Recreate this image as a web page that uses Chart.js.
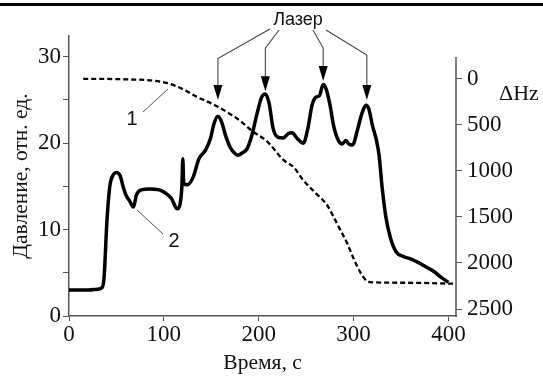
<!DOCTYPE html>
<html lang="ru">
<head>
<meta charset="UTF-8">
<title>Давление и сдвиг частоты</title>
<style>
  body { margin: 0; background: #fff; }
  .wrap { width: 543px; height: 376px; }
</style>
</head>
<body>
<div class="wrap"><canvas id="chart" width="543" height="376"></canvas></div>
<script src="https://cdn.jsdelivr.net/npm/chart.js@4/dist/chart.umd.min.js"></script>
<script>
// curve 2: pressure, rel. units (left axis)
const pressureTime = [0, 10, 20, 30, 35, 37, 40, 43, 47, 50, 54, 57, 60, 64, 68, 71, 76, 85, 95, 102,
  108, 114, 117, 119, 120, 121, 125, 131, 137, 144, 149, 153, 157, 161, 165, 170, 175, 178, 183, 188,
  193, 198, 203, 207, 211, 215, 220, 226, 231, 235, 241, 247, 252, 256, 260, 264, 268, 271, 275, 279,
  284, 288, 292, 295, 299, 304, 309, 313, 316, 320, 324, 327, 330, 334, 339, 345, 352, 360, 368, 376,
  384, 392, 400];
const pressure = [3.0, 3.0, 3.0, 3.1, 3.3, 4.5, 11.0, 15.0, 16.4, 16.6, 16.2, 15.0, 14.0, 13.3, 12.6, 14.0, 14.6, 14.7, 14.6, 14.2,
  13.6, 12.4, 12.9, 15.0, 18.2, 15.3, 15.2, 16.1, 18.2, 19.2, 20.5, 22.3, 23.1, 22.4, 20.9, 19.5, 18.8, 18.6, 18.9, 19.4,
  21.0, 23.3, 25.3, 25.7, 24.6, 21.8, 20.7, 20.6, 21.1, 21.2, 20.5, 20.0, 21.8, 24.3, 25.3, 25.5, 26.8, 26.3, 24.5, 22.0,
  20.3, 19.9, 20.3, 19.9, 19.8, 21.5, 23.5, 24.4, 24.0, 22.0, 20.4, 18.5, 15.0, 11.5, 9.0, 7.4, 6.9, 6.6, 6.2, 5.7,
  5.2, 4.5, 3.9];

// curve 1: frequency shift, Hz (right axis, inverted)
const shiftTime = [15, 40, 64, 85, 103, 120, 135, 150, 165, 180, 193, 209, 226, 237, 247, 260, 272, 279,
  286, 293, 300, 307, 314, 320, 360, 405];
const shift = [0, 0, 5, 15, 43, 110, 196, 265, 350, 450, 565, 680, 880, 960, 1100, 1240, 1370, 1500,
  1640, 1780, 1950, 2100, 2195, 2210, 2215, 2225];

const timeTicks = [0, 100, 200, 300, 400];
const pressureTicks = [0, 5, 10, 15, 20, 25, 30];
const shiftTicks = [0, 500, 1000, 1500, 2000, 2500];

// laser pulses: time of each peak, arrow tip and knee (pressure units)
const laserTime = [157, 207, 268, 314];
const laserTip = [25.0, 26.0, 27.2, 25.0];
const laserKnee = [29.8, 31.0, 31.0, 30.2];

const SERIF = '"Liberation Serif", "Times New Roman", serif';
const SANS = '"Liberation Sans", Arial, sans-serif';
const AXIS = '#555';

const toPoints = (xs, ys) => xs.map((v, i) => ({x: v, y: ys[i]}));
const setTicks = list => scale => { scale.ticks = list.map(v => ({value: v})); };

function arrowHead(ctx, x, y) {
  ctx.beginPath();
  ctx.moveTo(x, y);
  ctx.lineTo(x - 4.5, y - 15);
  ctx.lineTo(x + 4.5, y - 15);
  ctx.closePath();
  ctx.fill();
}

const extras = {
  id: 'extras',
  afterDraw(chart) {
    const {ctx, chartArea, scales: {x, y, y2}} = chart;
    ctx.save();

    // rule across the top of the figure
    ctx.fillStyle = '#000';
    ctx.fillRect(0, 3, chart.width, 3);

    // right axis line is shorter than the left one
    ctx.strokeStyle = AXIS;
    ctx.lineWidth = 1.5;
    ctx.beginPath();
    ctx.moveTo(chartArea.right, y2.getPixelForValue(-240));
    ctx.lineTo(chartArea.right, chartArea.bottom + 1);
    ctx.stroke();

    ctx.fillStyle = '#111';
    ctx.font = '22px ' + SERIF;
    ctx.textAlign = 'left';
    ctx.textBaseline = 'middle';
    ctx.fillText('ΔHz', 499, 94);

    // "Лазер" with arrows to the pressure peaks
    ctx.font = '18px ' + SANS;
    ctx.textAlign = 'center';
    ctx.fillText('Лазер', 298, 20);
    const starts = [[270, 29], [279, 30], [313, 30], [326, 30]];
    ctx.strokeStyle = '#444';
    ctx.lineWidth = 1.1;
    ctx.fillStyle = '#000';
    laserTime.forEach((t, i) => {
      const px = x.getPixelForValue(t);
      const knee = y.getPixelForValue(laserKnee[i]);
      const tip = y.getPixelForValue(laserTip[i]);
      ctx.beginPath();
      ctx.moveTo(starts[i][0], starts[i][1]);
      ctx.lineTo(px, knee);
      ctx.lineTo(px, tip - 12);
      ctx.stroke();
      arrowHead(ctx, px, tip);
    });

    // curve numbers with leader lines
    ctx.fillStyle = '#111';
    ctx.font = '20px ' + SANS;
    ctx.fillText('1', 132, 119);
    ctx.fillText('2', 174, 241);
    ctx.strokeStyle = '#555';
    ctx.lineWidth = 1;
    ctx.beginPath();
    ctx.moveTo(143, 112); ctx.lineTo(168, 89);
    ctx.moveTo(137, 210); ctx.lineTo(163, 234);
    ctx.stroke();

    ctx.restore();
  }
};

const tickFont = {family: SERIF, size: 23};
const titleFont = {family: SERIF, size: 21.5};

new Chart(document.getElementById('chart'), {
  type: 'line',
  data: {
    datasets: [{
      label: '2',
      data: toPoints(pressureTime, pressure),
      yAxisID: 'y',
      borderColor: '#000',
      borderWidth: 3.5,
      pointRadius: 0,
      cubicInterpolationMode: 'monotone',
      fill: false
    }, {
      label: '1',
      data: toPoints(shiftTime, shift),
      yAxisID: 'y2',
      borderColor: '#000',
      borderWidth: 2.3,
      borderDash: [5, 3],
      pointRadius: 0,
      cubicInterpolationMode: 'monotone',
      fill: false
    }]
  },
  options: {
    responsive: false,
    animation: false,
    devicePixelRatio: 1,
    layout: {padding: {top: 36, left: 0, right: 0, bottom: 0}},
    plugins: {legend: {display: false}, tooltip: {enabled: false}},
    scales: {
      x: {
        type: 'linear',
        min: 0,
        max: 408,
        afterFit: s => { s.height = 60; },
        afterBuildTicks: setTicks(timeTicks),
        grid: {drawOnChartArea: false, tickLength: 5, color: AXIS},
        border: {color: AXIS, width: 1.5},
        ticks: {font: tickFont, color: '#111', padding: 0, maxRotation: 0, callback: v => String(v)},
        title: {display: true, text: 'Время, с', font: titleFont, color: '#111', padding: {top: 0, bottom: 0}}
      },
      y: {
        position: 'left',
        min: 0,
        max: 32.4,
        afterFit: s => { s.width = 69; },
        afterBuildTicks: setTicks(pressureTicks),
        grid: {drawOnChartArea: false, tickLength: 6, color: AXIS},
        border: {color: AXIS, width: 1.5},
        ticks: {font: tickFont, color: '#111', padding: 2, callback: v => (v % 10 === 0 ? String(v) : '')},
        title: {display: true, text: 'Давление, отн. ед.', font: titleFont, color: '#111', padding: {top: 8, bottom: 0}}
      },
      y2: {
        position: 'right',
        reverse: true,
        min: -467,
        max: 2576,
        afterFit: s => { s.width = 87; },
        afterBuildTicks: setTicks(shiftTicks),
        grid: {drawOnChartArea: false, tickLength: 6, color: AXIS},
        border: {display: false},
        ticks: {font: tickFont, color: '#111', padding: 5, callback: v => String(v)}
      }
    }
  },
  plugins: [extras]
});
</script>
</body>
</html>
